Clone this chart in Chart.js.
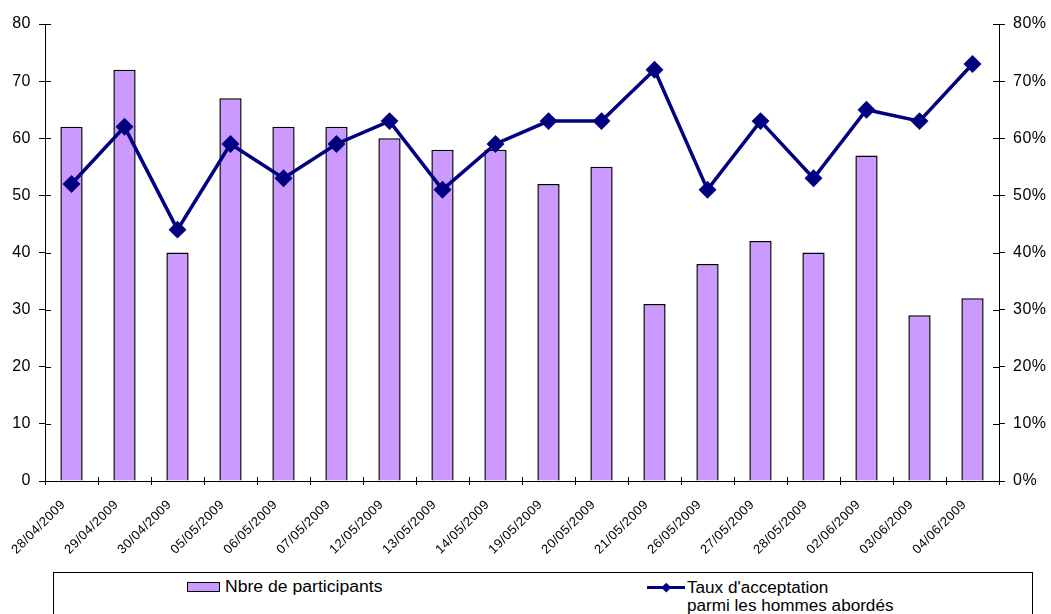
<!DOCTYPE html>
<html>
<head>
<meta charset="utf-8">
<script src="https://cdn.jsdelivr.net/npm/chart.js@4"></script>
<style>
  html, body { margin: 0; padding: 0; background: #fff; }
  #wrap { position: relative; width: 1051px; height: 614px; overflow: hidden; }
  canvas { position: absolute; left: 0; top: 0; }
  #legend { position: absolute; left: 53px; top: 572px; width: 980px; height: 60px;
    border: 1px solid #000; box-sizing: border-box; font-family: "Liberation Sans", Arial, sans-serif;
    font-size: 16px; line-height: 18px; color: #000; background: #fff; }
  .sw { position: absolute; left: 133px; top: 9px; width: 33px; height: 10px; background: #CC99FF; border: 1.5px solid #000; box-sizing: border-box; }
  .t1 { position: absolute; left: 171px; top: 5px; transform: scaleX(1.1); transform-origin: left top; white-space: nowrap; }
  .ln { position: absolute; left: 593px; top: 12.5px; width: 38px; height: 3px; background: #000080; }
  .dm { position: absolute; left: 609px; top: 10.5px; width: 6.5px; height: 6.5px; background: #000080; transform: rotate(45deg); }
  .t2 { position: absolute; left: 633px; top: 6px; transform: scaleX(1.07); transform-origin: left top; white-space: nowrap; }
</style>
</head>
<body>
<div id="wrap">
<canvas id="c" width="1051" height="614"></canvas>
<div id="legend">
  <div class="sw"></div><div class="t1">Nbre de participants</div>
  <div class="ln"></div><div class="dm"></div>
  <div class="t2">Taux d'acceptation<br>parmi les hommes abordés</div>
</div>
</div>
<script>
const categories = ["28/04/2009","29/04/2009","30/04/2009","05/05/2009","06/05/2009","07/05/2009","12/05/2009","13/05/2009","14/05/2009","19/05/2009","20/05/2009","21/05/2009","26/05/2009","27/05/2009","28/05/2009","02/06/2009","03/06/2009","04/06/2009"];
const participants = [62,72,40,67,62,62,60,58,58,52,55,31,38,42,40,57,29,32];
const acceptation = [52,62,44,59,53,59,63,51,59,63,63,72,51,63,53,65,63,73];
const leftTicks = [0,10,20,30,40,50,60,70,80];
const rightTicks = [0,10,20,30,40,50,60,70,80];

const FONT = "'Liberation Sans', Arial, sans-serif";

const spacing = {
  id: 'spacing',
  beforeDraw(chart) { chart.ctx.letterSpacing = '0.5px'; }
};

const crossTicks = {
  id: 'crossTicks',
  afterDraw(chart) {
    const ctx = chart.ctx;
    ctx.save();
    ctx.strokeStyle = '#000';
    ctx.lineWidth = 1;
    const x = chart.scales.x, yl = chart.scales.y, yr = chart.scales.y2;
    ctx.beginPath();
    yl.ticks.forEach((t, i) => {
      const py = Math.round(yl.getPixelForTick(i)) + 0.5;
      ctx.moveTo(yl.right, py); ctx.lineTo(yl.right + 6, py);
    });
    yr.ticks.forEach((t, i) => {
      const py = Math.round(yr.getPixelForTick(i)) + 0.5;
      ctx.moveTo(yr.left, py); ctx.lineTo(yr.left - 6, py);
    });
    for (let i = 0; i <= categories.length; i++) {
      const px = Math.round(x.left + (x.right - x.left) * i / categories.length) + 0.5;
      ctx.moveTo(px, x.top); ctx.lineTo(px, x.top - 4);
    }
    ctx.stroke();
    ctx.restore();
  }
};

new Chart(document.getElementById('c'), {
  data: {
    labels: categories,
    datasets: [
      {
        type: 'line',
        label: "Taux d'acceptation parmi les hommes abordés",
        data: acceptation,
        yAxisID: 'y2',
        borderColor: '#000080',
        backgroundColor: '#000080',
        borderWidth: 3.5,
        pointStyle: 'rectRot',
        pointRadius: 6.5,
        pointHoverRadius: 6.5,
        tension: 0,
        order: 0
      },
      {
        type: 'bar',
        label: 'Nbre de participants',
        data: participants,
        yAxisID: 'y',
        backgroundColor: '#CC99FF',
        borderColor: '#000',
        borderWidth: 1.5,
        barPercentage: 0.42,
        categoryPercentage: 1,
        order: 1
      }
    ]
  },
  options: {
    responsive: false,
    animation: false,
    layout: { padding: { top: 24, left: 0, right: 0, bottom: 0 } },
    plugins: { legend: { display: false }, tooltip: { enabled: false } },
    scales: {
      x: {
        offset: true,
        grid: { display: true, drawOnChartArea: false, offset: true, color: '#000', tickLength: 4 },
        border: { display: true, color: '#000', width: 1 },
        ticks: { color: '#000', font: { family: FONT, size: 13 }, minRotation: 45, maxRotation: 45, padding: 12, labelOffset: -8 },
        afterFit(s) { s.height = 133; }
      },
      y: {
        position: 'left',
        min: 0, max: 80,
        afterBuildTicks(s) { s.ticks = leftTicks.map(v => ({ value: v })); },
        grid: { display: true, drawOnChartArea: false, color: '#000', tickLength: 6 },
        border: { display: true, color: '#000', width: 1 },
        ticks: { color: '#000', font: { family: FONT, size: 16 }, padding: 8 },
        afterFit(s) { s.width = 45; }
      },
      y2: {
        position: 'right',
        min: 0, max: 80,
        afterBuildTicks(s) { s.ticks = rightTicks.map(v => ({ value: v })); },
        grid: { display: true, drawOnChartArea: false, color: '#000', tickLength: 6 },
        border: { display: true, color: '#000', width: 1 },
        ticks: { color: '#000', font: { family: FONT, size: 16 }, padding: 8, callback: v => v + '%' },
        afterFit(s) { s.width = 52; }
      }
    }
  },
  plugins: [spacing, crossTicks]
});
</script>
</body>
</html>
